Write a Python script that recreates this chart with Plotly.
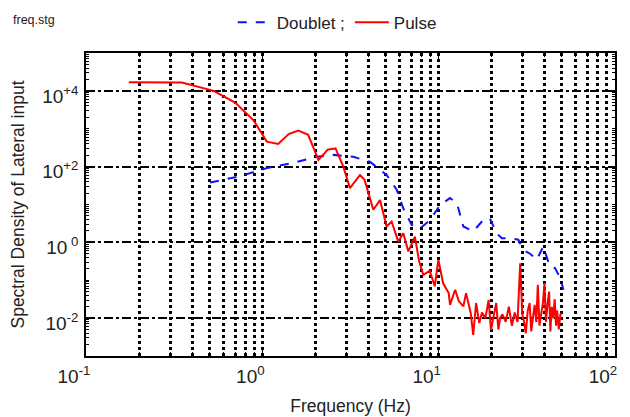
import plotly.graph_objects as go

# ---------------- data ----------------
pulse_freq = [0.175, 0.30, 0.35, 0.53, 0.70, 0.89, 1.06, 1.23, 1.41, 1.60, 1.82, 2.08,
              2.35, 2.60, 2.88, 3.14, 3.58, 3.80, 4.26, 4.65, 5.07, 5.41, 5.90, 6.30,
              6.73, 7.33, 7.75, 8.18, 8.90, 9.50, 9.96, 10.6, 11.0, 11.4, 11.6, 12.4,
              13.0, 13.8, 14.3, 15.2, 15.7, 16.3, 17.0, 17.6, 18.4, 19.2, 19.8, 20.5,
              21.2, 21.8, 22.3, 23.0, 24.0, 25.0, 26.0, 27.0, 28.0, 29.0, 29.8, 30.5,
              31.2, 32.0, 32.8, 33.5, 34.3, 35.0, 35.8, 36.5, 37.3, 38.2, 39.0, 39.8,
              40.6, 41.5, 42.3, 43.0, 43.8, 44.6, 45.5, 46.3, 47.0, 48.0, 49.0, 50.0]
pulse_log10 = [4.23, 4.23, 4.22, 4.00, 3.69, 3.23, 2.66, 2.60, 2.86, 2.95, 2.84, 2.18,
               2.45, 2.48, 2.00, 1.43, 1.78, 1.65, 0.86, 1.12, 0.42, 0.55, 0.02, 0.24,
               -0.24, 0.15, -0.50, -0.86, -0.75, -1.16, -0.46, -1.08, -1.20, -1.34, -1.65, -1.25,
               -1.55, -1.69, -1.34, -1.87, -2.44, -1.60, -2.13, -1.85, -2.00, -1.52, -2.31, -1.90,
               -1.60, -2.30, -2.00, -1.90, -2.10, -1.70, -2.20, -1.85, -2.10, -0.55, -1.90, -2.10,
               -2.40, -1.80, -1.60, -2.35, -2.00, -1.65, -2.10, -1.12, -2.20, -1.90, -1.60, -1.08,
               -2.10, -1.60, -1.30, -2.35, -1.70, -2.00, -1.50, -2.20, -1.80, -2.30, -1.90, -1.87]

doublet_freq = [0.505, 0.75, 1.06, 1.5, 2.03, 2.53, 3.28, 4.07, 5.07, 5.78, 6.3, 7.03,
                7.84, 8.93, 10.2, 11.6, 12.7, 13.8, 15.7, 17.9, 19.5, 21.3, 22.8, 25.4,
                28.3, 30.2, 33.0, 36.0, 39.2, 42.7, 45.7, 48.9, 51.0]
doublet_log10 = [1.58, 1.75, 1.96, 2.10, 2.26, 2.31, 2.26, 2.13, 1.78, 1.39, 0.90, 0.46,
                 0.37, 0.59, 0.99, 1.17, 1.03, 0.42, 0.29, 0.59, 0.64, 0.24, 0.11, 0.11,
                 0.07, -0.20, -0.30, -0.46, -0.11, -0.64, -0.68, -0.94, -1.25]

x_tick_vals = [0.1, 1, 10, 100]
x_tick_text = ["10<sup>-1</sup>", "10<sup>0</sup>", "10<sup>1</sup>", "10<sup>2</sup>"]
y_tick_vals = [1e-2, 1, 1e2, 1e4]
y_tick_text = ["10<sup>-2</sup>", "10<sup> 0</sup>", "10<sup>+2</sup>", "10<sup>+4</sup>"]

# minor positions (2..9 of each decade)
x_minor = [m * 10.0 ** d for d in (-1, 0, 1) for m in range(2, 10)]
y_minor = [m * 10.0 ** d for d in range(-3, 5) for m in range(1, 10)]

# ---------------- figure ----------------
FONT = "Liberation Sans, Arial, sans-serif"
fig = go.Figure()
fig.add_trace(go.Scatter(
    x=doublet_freq, y=[10 ** v for v in doublet_log10], mode="lines",
    name="Doublet ;", line=dict(color="#1010ff", width=2, dash="dash")))
fig.add_trace(go.Scatter(
    x=pulse_freq, y=[10 ** v for v in pulse_log10], mode="lines",
    name="Pulse", line=dict(color="#ff0000", width=2)))

# page body has an 8px default margin, so the figure is offset by 8px
fig.update_layout(
    width=630, height=417,
    margin=dict(l=78, r=23, t=45, b=69, autoexpand=False),
    paper_bgcolor="white", plot_bgcolor="white",
    font=dict(family=FONT, color="#222", size=17),
    showlegend=True,
    legend=dict(orientation="h", x=0.475, xanchor="center", y=1.10, yanchor="middle",
                font=dict(size=17), itemwidth=34, bgcolor="rgba(0,0,0,0)"),
    annotations=[dict(text="freq.stg", xref="paper", yref="paper", x=-0.142, y=1.109,
                      xanchor="left", yanchor="middle", showarrow=False,
                      font=dict(size=12.5, color="#222"))],
)

fig.update_xaxes(
    type="log", range=[-1, 2],
    tickmode="array", tickvals=x_tick_vals, ticktext=x_tick_text,
    tickfont=dict(size=19), ticks="inside", ticklen=6, tickcolor="black",
    ticklabelshift=-12, ticklabelstandoff=2,
    showline=True, linecolor="black", linewidth=1.5, mirror="ticks",
    showgrid=True, gridcolor="black", gridwidth=2.5, griddash="dot",
    minor=dict(tickmode="array", tickvals=x_minor, ticks="inside", ticklen=4,
               tickcolor="black", showgrid=True, gridcolor="black",
               gridwidth=2.5, griddash="dot"),
    zeroline=False, automargin=False,
    title=dict(text="Frequency (Hz)", font=dict(size=17.5), standoff=14),
)
fig.update_yaxes(
    type="log", range=[-3, 5],
    tickmode="array", tickvals=y_tick_vals, ticktext=y_tick_text,
    tickfont=dict(size=19), ticks="inside", ticklen=6, tickcolor="black",
    ticklabelshift=5, ticklabelstandoff=2,
    showline=True, linecolor="black", linewidth=1.5, mirror="ticks",
    showgrid=True, gridcolor="black", gridwidth=2, griddash="dashdot",
    minor=dict(tickmode="array", tickvals=y_minor, ticks="inside", ticklen=3,
               tickcolor="black", showgrid=False),
    zeroline=False, automargin=False,
    title=dict(text="Spectral Density of Lateral input", font=dict(size=17.5), standoff=13),
)

fig.write_html("out.html")
